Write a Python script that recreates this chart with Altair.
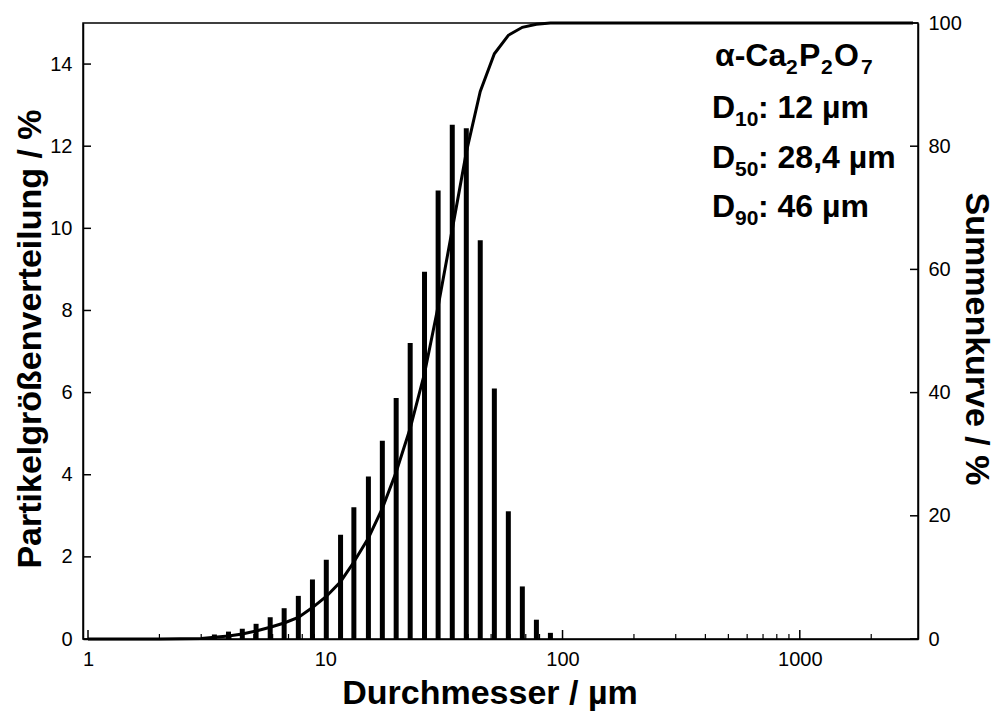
import altair as alt
import pandas as pd

# bar positions (µm) and frequency (%)
diameter = [3.41, 3.91, 4.47, 5.11, 5.86, 6.71, 7.70, 8.83, 10.1, 11.6, 13.2, 15.2, 17.4,
            19.9, 22.8, 26.2, 29.9, 34.3, 39.3, 45.0, 51.6, 59.1, 67.7, 77.6, 88.9]
frequency = [0.11, 0.18, 0.25, 0.37, 0.53, 0.75, 1.05, 1.45, 1.93, 2.54, 3.21, 3.96, 4.83,
             5.87, 7.21, 8.94, 10.92, 12.52, 12.44, 9.71, 6.10, 3.11, 1.28, 0.47, 0.15]

# cumulative curve (%)
curve_d = [1.0, 2.0, 3.0, 3.41, 3.91, 4.47, 5.11, 5.86, 6.71, 7.70, 8.83, 10.1, 11.6, 13.2,
           15.2, 17.4, 19.9, 22.8, 26.2, 29.9, 34.3, 39.3, 45.0, 51.6, 59.1, 67.7, 77.6,
           88.9, 100.0, 3000.0]
curve_c = [0.0, 0.0, 0.1, 0.3, 0.5, 0.8, 1.3, 1.9, 2.6, 3.5, 5.1, 6.9, 9.3, 12.5,
           16.4, 21.2, 27.1, 34.2, 43.1, 54.0, 66.5, 79.0, 88.9, 95.0, 98.0, 99.3, 99.8,
           100.0, 100.0, 100.0]

x_major = [1, 10, 100, 1000]
x_minor = [2, 3, 4, 5, 6, 7, 8, 9, 20, 30, 40, 50, 60, 70, 80, 90,
           200, 300, 400, 500, 600, 700, 800, 900, 2000]
left_ticks = [0, 2, 4, 6, 8, 10, 12, 14]
right_ticks = [0, 20, 40, 60, 80, 100]

x_title = "Durchmesser / µm"
left_title = "Partikelgrößenverteilung / %"
right_title = "Summenkurve / %"

# annotation pieces: (text, is_subscript)
formula_parts = [("α-Ca", False), ("2", True), ("P", False), ("2", True), ("O", False), ("7", True)]
d_labels = ["10", "50", "90"]
d_values = [": 12 µm", ": 28,4 µm", ": 46 µm"]

W, H = 835, 616
FONT = "Liberation Sans"
MAIN, SUB = 32, 21
TITLE = 34

xscale = alt.Scale(type="log", domain=[1, 3000], nice=False)
xaxis = alt.Axis(values=x_major, format="d", tickSize=0, labelPadding=10,
                 title=None, grid=False)
x_enc = alt.X("d:Q", scale=xscale, axis=xaxis)

lscale = alt.Scale(domain=[0, 15], nice=False, zero=True)
rscale = alt.Scale(domain=[0, 100], nice=False)

bars_df = pd.DataFrame({"d": diameter, "v": frequency})
curve_df = pd.DataFrame({"d": curve_d, "c": curve_c})

bars = alt.Chart(bars_df).mark_bar(size=5, color="black").encode(
    x=x_enc,
    y=alt.Y("v:Q", scale=lscale,
            axis=alt.Axis(orient="left", values=left_ticks, tickSize=0, labelPadding=11,
                          title=None, grid=False)),
)

line = alt.Chart(curve_df).mark_line(color="black", strokeWidth=3).encode(
    x=x_enc,
    y=alt.Y("c:Q", scale=rscale,
            axis=alt.Axis(orient="right", values=right_ticks, tickSize=0, labelPadding=10,
                          title=None, grid=False)),
)

xmaj = alt.Chart(pd.DataFrame({"d": x_major})).mark_rule(color="black", strokeWidth=1.5).encode(
    x=x_enc, y=alt.value(H), y2=alt.value(H - 9))
xmin = alt.Chart(pd.DataFrame({"d": x_minor})).mark_rule(color="black", strokeWidth=1.2).encode(
    x=x_enc, y=alt.value(H), y2=alt.value(H - 5))
lt = alt.Chart(pd.DataFrame({"v": left_ticks})).mark_rule(color="black", strokeWidth=1.5).encode(
    y=alt.Y("v:Q", scale=lscale, axis=None), x=alt.value(0), x2=alt.value(8))
rt = alt.Chart(pd.DataFrame({"c": right_ticks})).mark_rule(color="black", strokeWidth=1.5).encode(
    y=alt.Y("c:Q", scale=rscale, axis=None), x=alt.value(W), x2=alt.value(W - 8))


def txt(s, x, y, size, align="left", angle=0, baseline="alphabetic"):
    return alt.Chart(pd.DataFrame({"t": [s]})).mark_text(
        font=FONT, fontSize=size, fontWeight="bold", align=align,
        baseline=baseline, color="black", angle=angle
    ).encode(text="t:N", x=alt.value(x), y=alt.value(y))


texts = [
    txt(left_title, -52, 316, TITLE, align="center", angle=270, baseline="middle"),
    txt(right_title, 893, 316, TITLE, align="center", angle=90, baseline="middle"),
    txt(x_title, 407, 681, TITLE, align="center"),
]
# formula line
f_x = [632, 703, 716, 738, 751, 778]
for (s, sub), xx in zip(formula_parts, f_x):
    texts.append(txt(s, xx, 51 if sub else 43, SUB if sub else MAIN))
# D lines
for lab, val, yy in zip(d_labels, d_values, [95, 145, 194]):
    texts.append(txt("D", 629, yy, MAIN))
    texts.append(txt(lab, 652, yy + 8, SUB))
    texts.append(txt(val, 675, yy, MAIN))

chart = alt.layer(bars, line, xmaj, xmin, lt, rt, *texts).resolve_scale(
    y="independent"
).properties(
    width=W, height=H,
    autosize=alt.AutoSizeParams(type="none"),
    padding={"left": 75, "top": 15, "right": 80, "bottom": 73},
).configure_view(
    stroke="black", strokeWidth=1.5
).configure_axis(
    labelFont=FONT, labelFontSize=20, labelColor="black",
    domainColor="black", domainWidth=1.5,
)

chart.save("out.html", embed_options={"renderer": "svg", "actions": False})
